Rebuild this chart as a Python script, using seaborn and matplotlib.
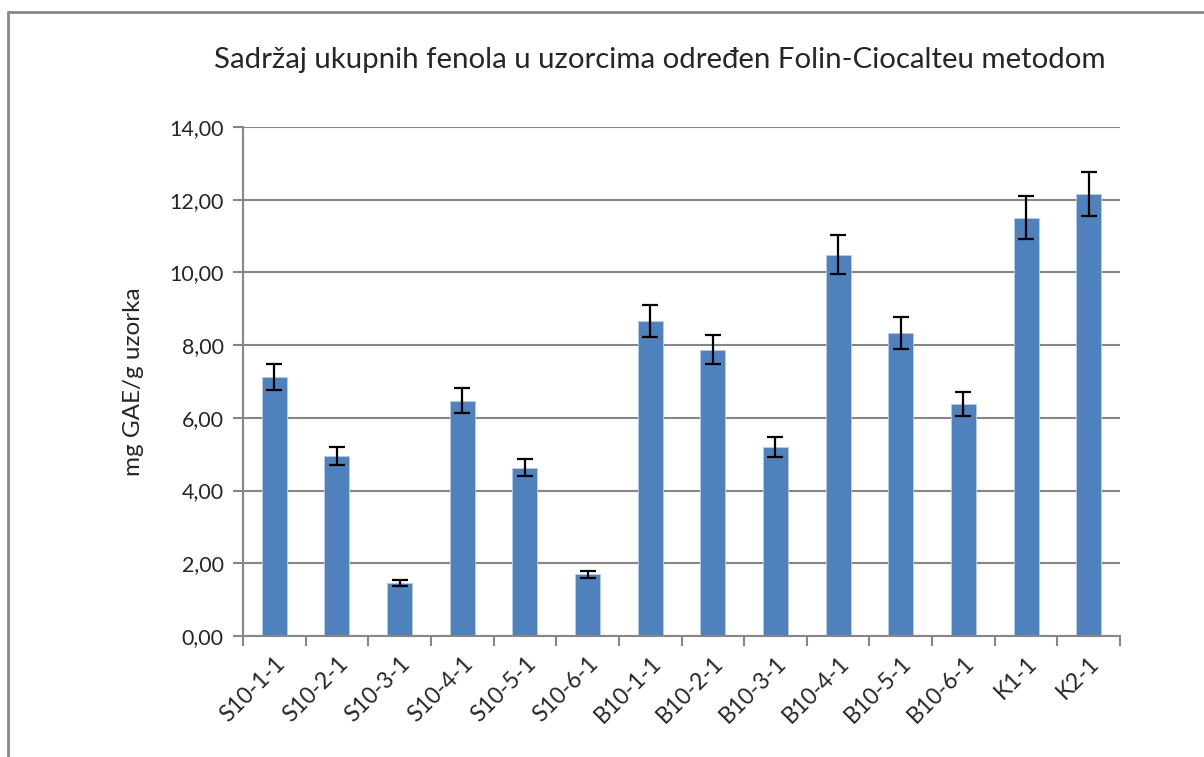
import matplotlib
matplotlib.use("Agg")
import matplotlib.pyplot as plt
import seaborn as sns
import numpy as np
import pandas as pd
from matplotlib.lines import Line2D
from matplotlib.ticker import FixedLocator, MultipleLocator, FuncFormatter

categories = ["S10-1-1", "S10-2-1", "S10-3-1", "S10-4-1", "S10-5-1", "S10-6-1",
              "B10-1-1", "B10-2-1", "B10-3-1", "B10-4-1", "B10-5-1", "B10-6-1",
              "K1-1", "K2-1"]
values = [7.13, 4.94, 1.45, 6.47, 4.63, 1.70, 8.66, 7.88, 5.20, 10.49, 8.33, 6.38, 11.51, 12.15]
errors = [0.36, 0.25, 0.08, 0.34, 0.24, 0.10, 0.44, 0.40, 0.27, 0.54, 0.44, 0.34, 0.59, 0.60]
title = "Sadržaj ukupnih fenola u uzorcima određen Folin-Ciocalteu metodom"
ylabel = "mg GAE/g uzorka"

sns.set_theme(style="white")
plt.rcParams['font.family'] = ['Lato', 'DejaVu Sans']

df = pd.DataFrame({"cat": categories, "val": values})

fig = plt.figure(figsize=(12.04, 7.57), dpi=100)
W, H = 1204, 757
left, right, top, bottom = 243, 1120, 127, 636
ax = fig.add_axes([left / W, 1 - bottom / H, (right - left) / W, (bottom - top) / H])

sns.barplot(data=df, x="cat", y="val", color="#4F81BD", saturation=1, width=0.4,
            errorbar=None, ax=ax, edgecolor="#B9CDE5", linewidth=0.6, zorder=2)
pos = np.arange(len(categories))
ax.errorbar(pos, values, yerr=errors, fmt="none", ecolor="black", elinewidth=1.6,
            capsize=6, capthick=1.6, zorder=3)

ax.set_ylim(0, 14)
ax.set_xlim(-0.5, len(categories) - 0.5)
ax.yaxis.set_major_locator(MultipleLocator(2))
ax.yaxis.set_major_formatter(FuncFormatter(lambda v, p: f"{v:.2f}".replace(".", ",")))
ax.grid(axis="y", color="#868686", linewidth=1.5, zorder=0)
ax.set_axisbelow(True)

for s in ["top", "right"]:
    ax.spines[s].set_visible(False)
for s in ["left", "bottom"]:
    ax.spines[s].set_color("#868686")
    ax.spines[s].set_linewidth(1.5)

ax.set_xticks(pos)
ax.set_xticklabels(categories, rotation=45, ha="right", rotation_mode="anchor", fontsize=16.5)
ax.xaxis.set_minor_locator(FixedLocator(np.arange(-0.5, len(categories), 1.0)))
ax.tick_params(axis="x", which="major", length=0, pad=12)
ax.tick_params(axis="x", which="minor", length=7, width=1.5, color="#868686", bottom=True)
ax.tick_params(axis="y", which="major", length=7, width=1.5, color="#868686", left=True,
               labelsize=15.5, pad=7)
ax.set_xlabel("")
ax.set_ylabel(ylabel, fontsize=17.5, labelpad=18)

fig.text(660 / W, 1 - 60 / H, title, ha="center", va="center", fontsize=21.2)

border_kw = dict(transform=fig.transFigure, color="#868686", linewidth=2)
fig.lines.append(Line2D([8 / W, 1.0], [1 - 12 / H, 1 - 12 / H], **border_kw))
fig.lines.append(Line2D([8 / W, 8 / W], [0.0, 1 - 12 / H], **border_kw))

fig.savefig("out.png", dpi=100)
